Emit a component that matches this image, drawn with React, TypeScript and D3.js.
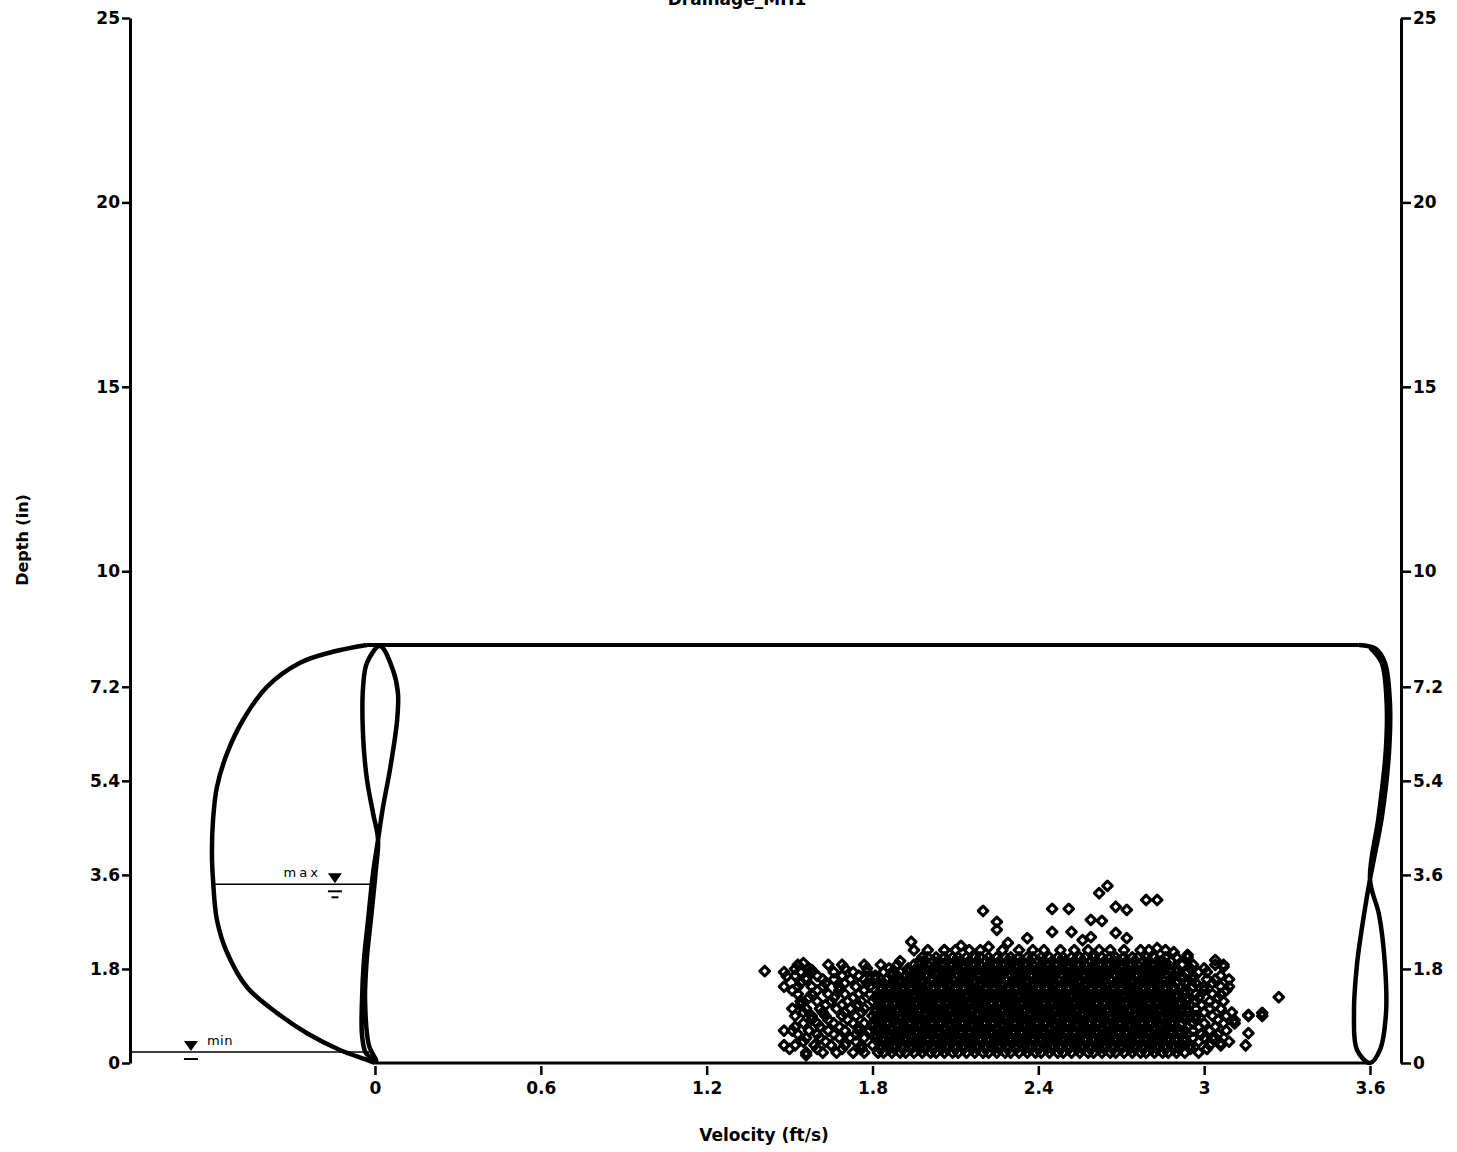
import React, { useEffect, useRef } from "react"
import * as d3 from "d3"

const chartTitle = "Drainage_MH1"
const xLabel = "Velocity (ft/s)"
const yLabel = "Depth (in)"
const xTickValues = [0, 0.6, 1.2, 1.8, 2.4, 3, 3.6]
const yTickValues = [0, 1.8, 3.6, 5.4, 7.2, 10, 15, 20, 25]
const pipeDepth = 8
const pipeVelocity = 3.6
const maxLevel = 3.42
const minLevel = 0.21

// velocity / depth profile of the pipe
const leftProfile: [number, number][] = [
  [-0.029, 8.0], [-0.152, 7.87], [-0.271, 7.66], [-0.391, 7.2], [-0.478, 6.56],
  [-0.535, 5.93], [-0.572, 5.28], [-0.586, 4.65], [-0.59, 4.0], [-0.586, 3.5],
  [-0.572, 2.74], [-0.535, 2.11], [-0.463, 1.45], [-0.355, 0.96], [-0.246, 0.57],
  [-0.127, 0.25], [-0.029, 0.06], [0, 0],
]
const midProfile: [number, number][] = [
  [0.018, 7.98], [0.065, 7.52], [0.083, 7.08], [0.08, 6.56], [0.054, 5.61],
  [0.029, 4.9], [0.011, 4.27], [-0.007, 3.64], [-0.025, 2.74], [-0.04, 1.97],
  [-0.047, 1.21], [-0.047, 0.54], [-0.033, 0.19], [0.004, 0.04], [-0.022, 0.34],
  [-0.036, 1.21], [-0.03, 1.97], [-0.015, 2.74], [0.002, 3.64], [0.011, 4.27],
  [-0.007, 4.78], [-0.029, 5.42], [-0.043, 6.24], [-0.043, 7.2], [-0.029, 7.66],
]
const rightProfile: [number, number][] = [
  [3.56, 8.0], [3.62, 7.93], [3.654, 7.66], [3.672, 6.91], [3.669, 5.97],
  [3.643, 4.71], [3.614, 3.9], [3.6, 3.52], [3.578, 2.83], [3.553, 1.89],
  [3.542, 0.96], [3.553, 0.25], [3.6, 0.0], [3.636, 0.25], [3.658, 0.96],
  [3.654, 1.89], [3.633, 2.83], [3.6, 3.52], [3.631, 4.71], [3.657, 5.97],
  [3.66, 6.91], [3.642, 7.66], [3.6, 7.95],
]

// scatter: depth of each row with the velocities found on it
const scatterRows: [number, number[]][] = [
  [0.2, [1.56, 1.62, 1.67, 1.73, 1.77, 1.82, 1.84, 1.87, 1.9, 1.92, 1.95, 1.98, 2.01, 2.03, 2.06, 2.09, 2.11, 2.14, 2.17, 2.2, 2.22, 2.25, 2.28, 2.3, 2.33, 2.36, 2.39, 2.41, 2.44, 2.47, 2.49, 2.52, 2.55, 2.58, 2.6, 2.63, 2.66, 2.68, 2.71, 2.74, 2.77, 2.79, 2.82, 2.85, 2.87, 2.9, 2.93, 2.98]],
  [0.27, [1.5, 1.6, 1.69, 1.76, 1.83, 1.86, 1.88, 1.91, 1.94, 1.97, 1.99, 2.02, 2.05, 2.07, 2.1, 2.13, 2.16, 2.18, 2.21, 2.24, 2.26, 2.29, 2.32, 2.35, 2.37, 2.4, 2.43, 2.45, 2.48, 2.51, 2.54, 2.56, 2.59, 2.62, 2.64, 2.67, 2.7, 2.73, 2.75, 2.78, 2.81, 2.83, 2.86, 2.89, 2.91, 2.95, 3.01]],
  [0.34, [1.48, 1.52, 1.59, 1.65, 1.7, 1.76, 1.8, 1.83, 1.85, 1.88, 1.91, 1.94, 1.96, 1.99, 2.02, 2.04, 2.07, 2.1, 2.13, 2.15, 2.18, 2.21, 2.23, 2.26, 2.29, 2.32, 2.34, 2.37, 2.4, 2.42, 2.45, 2.48, 2.51, 2.53, 2.56, 2.59, 2.61, 2.64, 2.67, 2.7, 2.72, 2.75, 2.78, 2.8, 2.83, 2.86, 2.89, 2.92, 2.95, 3.02, 3.06, 3.15]],
  [0.41, [1.55, 1.63, 1.74, 1.82, 1.84, 1.87, 1.9, 1.92, 1.95, 1.98, 2.0, 2.03, 2.06, 2.09, 2.11, 2.14, 2.17, 2.19, 2.22, 2.25, 2.28, 2.3, 2.33, 2.36, 2.38, 2.41, 2.44, 2.47, 2.49, 2.52, 2.55, 2.57, 2.6, 2.63, 2.66, 2.68, 2.71, 2.74, 2.76, 2.79, 2.82, 2.85, 2.87, 2.9, 2.93, 2.98, 3.09]],
  [0.48, [1.56, 1.61, 1.68, 1.72, 1.77, 1.81, 1.84, 1.86, 1.89, 1.92, 1.94, 1.97, 2.0, 2.03, 2.05, 2.08, 2.11, 2.13, 2.16, 2.19, 2.22, 2.24, 2.27, 2.3, 2.32, 2.35, 2.38, 2.41, 2.43, 2.46, 2.49, 2.51, 2.54, 2.57, 2.6, 2.62, 2.65, 2.68, 2.7, 2.73, 2.76, 2.79, 2.81, 2.84, 2.87, 2.9, 2.93, 2.96, 3.0, 3.04]],
  [0.55, [1.53, 1.6, 1.66, 1.74, 1.81, 1.83, 1.86, 1.88, 1.91, 1.94, 1.96, 1.99, 2.02, 2.04, 2.07, 2.1, 2.12, 2.15, 2.18, 2.21, 2.23, 2.26, 2.29, 2.31, 2.34, 2.37, 2.4, 2.42, 2.45, 2.48, 2.5, 2.53, 2.56, 2.59, 2.61, 2.64, 2.67, 2.69, 2.72, 2.75, 2.78, 2.8, 2.83, 2.86, 2.88, 2.91, 2.94, 2.99, 3.05]],
  [0.62, [1.48, 1.51, 1.57, 1.64, 1.7, 1.75, 1.79, 1.82, 1.85, 1.87, 1.9, 1.93, 1.96, 1.98, 2.01, 2.04, 2.06, 2.09, 2.12, 2.15, 2.17, 2.2, 2.23, 2.25, 2.28, 2.31, 2.34, 2.36, 2.39, 2.42, 2.44, 2.47, 2.5, 2.53, 2.55, 2.58, 2.61, 2.63, 2.66, 2.69, 2.72, 2.74, 2.77, 2.8, 2.82, 2.85, 2.88, 2.91, 2.93, 2.96, 3.02, 3.08]],
  [0.69, [1.52, 1.61, 1.68, 1.75, 1.8, 1.82, 1.84, 1.87, 1.89, 1.92, 1.95, 1.97, 2.0, 2.03, 2.06, 2.08, 2.11, 2.14, 2.16, 2.19, 2.22, 2.25, 2.27, 2.3, 2.33, 2.35, 2.38, 2.41, 2.44, 2.46, 2.49, 2.52, 2.54, 2.57, 2.6, 2.63, 2.65, 2.68, 2.71, 2.73, 2.76, 2.79, 2.82, 2.84, 2.87, 2.9, 2.94, 2.98, 3.04]],
  [0.76, [1.55, 1.6, 1.66, 1.73, 1.77, 1.8, 1.83, 1.86, 1.89, 1.91, 1.94, 1.97, 1.99, 2.02, 2.05, 2.08, 2.1, 2.13, 2.16, 2.18, 2.21, 2.24, 2.27, 2.29, 2.32, 2.35, 2.37, 2.4, 2.43, 2.46, 2.48, 2.51, 2.54, 2.56, 2.59, 2.62, 2.65, 2.67, 2.7, 2.73, 2.75, 2.78, 2.81, 2.84, 2.86, 2.89, 2.92, 2.96, 3.0, 3.07, 3.11]],
  [0.83, [1.58, 1.64, 1.71, 1.81, 1.84, 1.87, 1.9, 1.92, 1.95, 1.98, 2.0, 2.03, 2.06, 2.09, 2.11, 2.14, 2.17, 2.19, 2.22, 2.25, 2.28, 2.3, 2.33, 2.36, 2.38, 2.41, 2.44, 2.47, 2.49, 2.52, 2.55, 2.57, 2.6, 2.63, 2.66, 2.68, 2.71, 2.74, 2.76, 2.79, 2.82, 2.85, 2.87, 2.9, 2.93, 2.97, 3.05]],
  [0.9, [1.52, 1.58, 1.63, 1.69, 1.74, 1.8, 1.82, 1.85, 1.88, 1.9, 1.93, 1.96, 1.99, 2.01, 2.04, 2.07, 2.09, 2.12, 2.15, 2.18, 2.2, 2.23, 2.26, 2.28, 2.31, 2.34, 2.37, 2.39, 2.42, 2.45, 2.47, 2.5, 2.53, 2.56, 2.58, 2.61, 2.64, 2.66, 2.69, 2.72, 2.75, 2.77, 2.8, 2.83, 2.85, 2.88, 2.91, 2.93, 2.97, 3.03, 3.08, 3.16, 3.21]],
  [0.97, [1.55, 1.62, 1.7, 1.76, 1.81, 1.83, 1.86, 1.89, 1.91, 1.94, 1.97, 1.99, 2.02, 2.05, 2.08, 2.1, 2.13, 2.16, 2.18, 2.21, 2.24, 2.27, 2.29, 2.32, 2.35, 2.37, 2.4, 2.43, 2.46, 2.48, 2.51, 2.54, 2.56, 2.59, 2.62, 2.65, 2.67, 2.7, 2.73, 2.75, 2.78, 2.81, 2.84, 2.86, 2.89, 2.92, 2.94, 3.0, 3.1]],
  [1.04, [1.51, 1.56, 1.61, 1.67, 1.72, 1.77, 1.81, 1.84, 1.87, 1.89, 1.92, 1.95, 1.97, 2.0, 2.03, 2.06, 2.08, 2.11, 2.14, 2.16, 2.19, 2.22, 2.25, 2.27, 2.3, 2.33, 2.35, 2.38, 2.41, 2.44, 2.46, 2.49, 2.52, 2.54, 2.57, 2.6, 2.63, 2.65, 2.68, 2.71, 2.73, 2.76, 2.79, 2.82, 2.84, 2.87, 2.9, 2.92, 2.94, 2.97, 3.02, 3.06]],
  [1.11, [1.54, 1.63, 1.69, 1.75, 1.82, 1.85, 1.88, 1.9, 1.93, 1.96, 1.98, 2.01, 2.04, 2.07, 2.09, 2.12, 2.15, 2.17, 2.2, 2.23, 2.26, 2.28, 2.31, 2.34, 2.36, 2.39, 2.42, 2.45, 2.47, 2.5, 2.53, 2.55, 2.58, 2.61, 2.64, 2.66, 2.69, 2.72, 2.74, 2.77, 2.8, 2.83, 2.85, 2.88, 2.91, 2.95, 2.99, 3.04]],
  [1.18, [1.54, 1.6, 1.65, 1.71, 1.76, 1.8, 1.83, 1.85, 1.88, 1.91, 1.94, 1.96, 1.99, 2.02, 2.04, 2.07, 2.1, 2.13, 2.15, 2.18, 2.21, 2.23, 2.26, 2.29, 2.32, 2.34, 2.37, 2.4, 2.42, 2.45, 2.48, 2.51, 2.53, 2.56, 2.59, 2.61, 2.64, 2.67, 2.7, 2.72, 2.75, 2.78, 2.8, 2.83, 2.86, 2.89, 2.91, 2.94, 2.97, 3.02, 3.07]],
  [1.25, [1.57, 1.66, 1.73, 1.81, 1.84, 1.86, 1.89, 1.92, 1.95, 1.97, 2.0, 2.03, 2.05, 2.08, 2.11, 2.14, 2.16, 2.19, 2.22, 2.24, 2.27, 2.3, 2.33, 2.35, 2.38, 2.41, 2.43, 2.46, 2.49, 2.52, 2.54, 2.57, 2.6, 2.62, 2.65, 2.68, 2.71, 2.73, 2.76, 2.79, 2.81, 2.84, 2.87, 2.9, 2.94, 2.98, 3.05]],
  [1.32, [1.53, 1.58, 1.64, 1.7, 1.75, 1.79, 1.82, 1.85, 1.87, 1.9, 1.93, 1.95, 1.98, 2.01, 2.04, 2.06, 2.09, 2.12, 2.14, 2.17, 2.2, 2.23, 2.25, 2.28, 2.31, 2.33, 2.36, 2.39, 2.42, 2.44, 2.47, 2.5, 2.52, 2.55, 2.58, 2.61, 2.63, 2.66, 2.69, 2.71, 2.74, 2.77, 2.8, 2.82, 2.85, 2.88, 2.9, 2.93, 2.97, 3.03, 3.06]],
  [1.39, [1.51, 1.6, 1.68, 1.77, 1.83, 1.86, 1.88, 1.91, 1.94, 1.96, 1.99, 2.02, 2.05, 2.07, 2.1, 2.13, 2.15, 2.18, 2.21, 2.24, 2.26, 2.29, 2.32, 2.34, 2.37, 2.4, 2.43, 2.45, 2.48, 2.51, 2.53, 2.56, 2.59, 2.62, 2.64, 2.67, 2.7, 2.72, 2.75, 2.78, 2.81, 2.83, 2.86, 2.89, 2.93, 3.0, 3.08]],
  [1.46, [1.48, 1.53, 1.58, 1.62, 1.68, 1.74, 1.79, 1.83, 1.86, 1.89, 1.91, 1.94, 1.97, 2.0, 2.02, 2.05, 2.08, 2.1, 2.13, 2.16, 2.19, 2.21, 2.24, 2.27, 2.29, 2.32, 2.35, 2.38, 2.4, 2.43, 2.46, 2.48, 2.51, 2.54, 2.57, 2.59, 2.62, 2.65, 2.67, 2.7, 2.73, 2.76, 2.78, 2.81, 2.84, 2.86, 2.89, 2.92, 2.96, 3.0, 3.06, 3.09]],
  [1.53, [1.54, 1.63, 1.7, 1.78, 1.84, 1.87, 1.9, 1.92, 1.95, 1.98, 2.0, 2.03, 2.06, 2.08, 2.11, 2.14, 2.17, 2.19, 2.22, 2.25, 2.27, 2.3, 2.33, 2.36, 2.38, 2.41, 2.44, 2.46, 2.49, 2.52, 2.55, 2.57, 2.6, 2.63, 2.65, 2.68, 2.71, 2.74, 2.76, 2.79, 2.82, 2.84, 2.87, 2.9, 2.93, 2.97, 3.03]],
  [1.6, [1.56, 1.62, 1.66, 1.72, 1.77, 1.81, 1.85, 1.88, 1.9, 1.93, 1.96, 1.98, 2.01, 2.04, 2.07, 2.09, 2.12, 2.15, 2.17, 2.2, 2.23, 2.26, 2.28, 2.31, 2.34, 2.36, 2.39, 2.42, 2.45, 2.47, 2.5, 2.53, 2.55, 2.58, 2.61, 2.64, 2.66, 2.69, 2.72, 2.74, 2.77, 2.8, 2.83, 2.85, 2.88, 2.92, 2.96, 3.01, 3.04, 3.09]],
  [1.67, [1.52, 1.6, 1.69, 1.75, 1.81, 1.87, 1.89, 1.92, 1.94, 1.97, 2.0, 2.03, 2.05, 2.08, 2.11, 2.13, 2.16, 2.19, 2.21, 2.24, 2.27, 2.3, 2.32, 2.35, 2.38, 2.4, 2.43, 2.46, 2.49, 2.51, 2.54, 2.57, 2.59, 2.62, 2.65, 2.68, 2.7, 2.73, 2.76, 2.78, 2.81, 2.84, 2.87, 2.89, 2.92, 2.96, 3.06]],
  [1.74, [1.48, 1.54, 1.58, 1.66, 1.73, 1.78, 1.84, 1.87, 1.9, 1.93, 1.95, 1.98, 2.01, 2.03, 2.06, 2.09, 2.12, 2.14, 2.17, 2.2, 2.22, 2.25, 2.28, 2.31, 2.33, 2.36, 2.39, 2.41, 2.44, 2.47, 2.5, 2.52, 2.55, 2.58, 2.6, 2.63, 2.66, 2.69, 2.71, 2.74, 2.77, 2.79, 2.82, 2.85, 2.88, 2.9, 2.94, 2.98, 3.01]],
  [1.81, [1.57, 1.7, 1.78, 1.86, 1.93, 1.96, 1.99, 2.02, 2.04, 2.07, 2.1, 2.13, 2.15, 2.18, 2.21, 2.23, 2.26, 2.29, 2.32, 2.34, 2.37, 2.4, 2.42, 2.45, 2.48, 2.51, 2.53, 2.56, 2.59, 2.61, 2.64, 2.67, 2.7, 2.72, 2.75, 2.78, 2.8, 2.83, 2.86, 2.9, 2.95, 3.0]],
  [1.88, [1.53, 1.64, 1.69, 1.77, 1.83, 1.89, 1.95, 1.97, 2.0, 2.03, 2.05, 2.08, 2.11, 2.13, 2.16, 2.19, 2.22, 2.24, 2.27, 2.3, 2.32, 2.35, 2.38, 2.41, 2.43, 2.46, 2.49, 2.51, 2.54, 2.57, 2.6, 2.62, 2.65, 2.68, 2.7, 2.73, 2.76, 2.79, 2.81, 2.84, 2.87, 2.92, 2.96, 3.04, 3.07]],
  [1.95, [1.9, 1.97, 1.99, 2.02, 2.04, 2.07, 2.1, 2.12, 2.15, 2.18, 2.21, 2.23, 2.26, 2.29, 2.31, 2.34, 2.37, 2.4, 2.42, 2.45, 2.48, 2.5, 2.53, 2.56, 2.59, 2.61, 2.64, 2.67, 2.69, 2.72, 2.75, 2.78, 2.8, 2.83, 2.85, 2.88]],
  [2.02, [1.98, 2.0, 2.03, 2.06, 2.09, 2.11, 2.14, 2.17, 2.19, 2.22, 2.25, 2.28, 2.3, 2.33, 2.36, 2.38, 2.41, 2.44, 2.47, 2.49, 2.52, 2.55, 2.57, 2.6, 2.63, 2.66, 2.68, 2.71, 2.74, 2.76, 2.79, 2.82, 2.86, 2.9, 2.94]],
  [2.16, [1.95, 2.0, 2.06, 2.1, 2.15, 2.19, 2.27, 2.33, 2.38, 2.42, 2.48, 2.53, 2.58, 2.62, 2.66, 2.71, 2.77, 2.8, 2.86]],
]
const scatterOutliers: [number, number][] = [
  [1.41, 1.76], [1.49, 1.66], [1.52, 1.8], [1.55, 1.91], [1.58, 1.78], [1.56, 1.63],
  [1.56, 0.15], [1.94, 2.32], [2.06, 2.16], [2.12, 2.24], [2.2, 2.91], [2.25, 2.7],
  [2.25, 2.55], [2.22, 2.22], [2.29, 2.3], [2.36, 2.39], [2.45, 2.95], [2.51, 2.95],
  [2.45, 2.51], [2.52, 2.51], [2.56, 2.35], [2.59, 2.41], [2.59, 2.74], [2.63, 2.72],
  [2.62, 3.25], [2.65, 3.39], [2.68, 2.99], [2.72, 2.93], [2.79, 3.12], [2.83, 3.12],
  [2.68, 2.49], [2.72, 2.39], [2.83, 2.2], [2.89, 2.12], [2.94, 2.07], [3.04, 1.97],
  [3.07, 1.84], [3.27, 1.26], [3.21, 0.96], [3.16, 0.92], [3.11, 0.82], [3.16, 0.57],
  [3.06, 0.38], [3.03, 0.48],
]

const width = 1457
const height = 1152
const plotLeft = 130
const plotRight = 1401
const font = "'DejaVu Sans', Verdana, sans-serif"

const App = () => {
  const canvas = useRef<SVGSVGElement>(null)

  useEffect(() => {
    const svg = d3.select(canvas.current)
    svg.selectAll("*").remove()

    const x = d3.scaleLinear().domain([0, pipeVelocity]).range([375, 1370])
    // depth axis is stretched below the pipe crown
    const y = d3.scaleLinear().domain([0, pipeDepth, 25]).range([1063, 645, 18])

    // title, mostly cut off by the page edge
    svg.append("text")
      .attr("x", 737).attr("y", 5)
      .attr("text-anchor", "middle")
      .attr("font-family", font).attr("font-weight", "bold").attr("font-size", 17)
      .text(chartTitle)

    // axes
    const styleAxis = (g: any) => {
      g.select(".domain").attr("stroke-width", 3)
      g.selectAll(".tick line").attr("stroke-width", 2.5)
      g.selectAll(".tick text")
        .attr("font-family", font).attr("font-weight", "bold").attr("font-size", 17).attr("fill", "#000")
    }
    svg.append("g")
      .attr("transform", `translate(${plotLeft},0)`)
      .call(d3.axisLeft(y).tickValues(yTickValues).tickSize(8).tickSizeOuter(0).tickPadding(2).tickFormat((d: any) => String(d)))
      .call(styleAxis)
    svg.append("g")
      .attr("transform", `translate(${plotRight},0)`)
      .call(d3.axisRight(y).tickValues(yTickValues).tickSize(10).tickSizeOuter(0).tickPadding(2).tickFormat((d: any) => String(d)))
      .call(styleAxis)
    const xAxis = svg.append("g")
      .attr("transform", `translate(0,${y(0) + 3})`)
      .call(d3.axisBottom(x).tickValues(xTickValues).tickSize(9).tickPadding(7).tickFormat((d: any) => String(d)))
      .call(styleAxis)
    xAxis.select(".domain").remove()

    svg.append("text")
      .attr("x", 764).attr("y", 1141)
      .attr("text-anchor", "middle")
      .attr("font-family", font).attr("font-weight", "bold").attr("font-size", 17)
      .text(xLabel)
    svg.append("text")
      .attr("transform", "translate(28,540) rotate(-90)")
      .attr("text-anchor", "middle")
      .attr("font-family", font).attr("font-weight", "bold").attr("font-size", 16)
      .text(yLabel)

    // pipe outline
    const line = d3.line<[number, number]>().x(d => x(d[0])).y(d => y(d[1]))
    const outline = svg.append("g").attr("fill", "none").attr("stroke", "#000").attr("stroke-linejoin", "round")

    outline.append("path")
      .attr("d", line([[leftProfile[0][0], pipeDepth], [rightProfile[0][0], pipeDepth]]))
      .attr("stroke-width", 4)
    outline.append("path")
      .attr("d", line([[0, 0], [pipeVelocity, 0]]))
      .attr("stroke-width", 3)
    outline.append("path")
      .attr("d", line.curve(d3.curveCatmullRom)(leftProfile))
      .attr("stroke-width", 4.5)
    outline.append("path")
      .attr("d", line.curve(d3.curveCatmullRomClosed)(midProfile))
      .attr("stroke-width", 4.5)
    outline.append("path")
      .attr("d", line.curve(d3.curveCatmullRom)(rightProfile))
      .attr("stroke-width", 4.5)

    // max / min water levels
    const levels = [
      { name: "max", depth: maxLevel, from: d3.min(leftProfile, d => d[0]) as number, mark: -0.145, bars: [14, 7], spacing: 3 },
      { name: "min", depth: minLevel, from: x.invert(plotLeft), mark: -0.666, bars: [14], spacing: 0.5 },
    ]
    levels.forEach(lv => {
      const ly = y(lv.depth)
      const mx = x(lv.mark)
      svg.append("line")
        .attr("x1", x(lv.from)).attr("x2", x(-0.01))
        .attr("y1", ly).attr("y2", ly)
        .attr("stroke", "#000").attr("stroke-width", 1.6)
      svg.append("path")
        .attr("d", `M${mx - 7},${ly - 11}L${mx + 7},${ly - 11}L${mx},${ly - 1}Z`)
        .attr("fill", "#000")
      lv.bars.forEach((w, i) => {
        svg.append("line")
          .attr("x1", mx - w / 2).attr("x2", mx + w / 2)
          .attr("y1", ly + 7 + i * 6).attr("y2", ly + 7 + i * 6)
          .attr("stroke", "#000").attr("stroke-width", 2)
      })
      const label = svg.append("text")
        .attr("y", ly - 7)
        .attr("font-family", font).attr("font-size", 13)
        .attr("letter-spacing", lv.spacing)
        .text(lv.name)
      if (lv.name === "max") label.attr("x", mx - 14).attr("text-anchor", "end")
      else label.attr("x", mx + 16)
    })

    // scatter of measurements
    const points: [number, number][] = []
    scatterRows.forEach(([depth, vels]) => vels.forEach(v => points.push([v, depth])))
    scatterOutliers.forEach(p => points.push(p))
    const diamond = d3.symbol().type(d3.symbolSquare).size(46)
    svg.append("g")
      .selectAll("path")
      .data(points)
      .enter()
      .append("path")
      .attr("d", diamond() as string)
      .attr("transform", d => `translate(${x(d[0])},${y(d[1])}) rotate(45)`)
      .attr("fill", "none")
      .attr("stroke", "#000")
      .attr("stroke-width", 3.1)
      .attr("stroke-linejoin", "round")
  }, [])

  return (
    <svg
      ref={canvas}
      width={width}
      height={height}
      style={{ position: "absolute", left: 0, top: 0, background: "#fff", display: "block" }}
    />
  )
}

export default App
